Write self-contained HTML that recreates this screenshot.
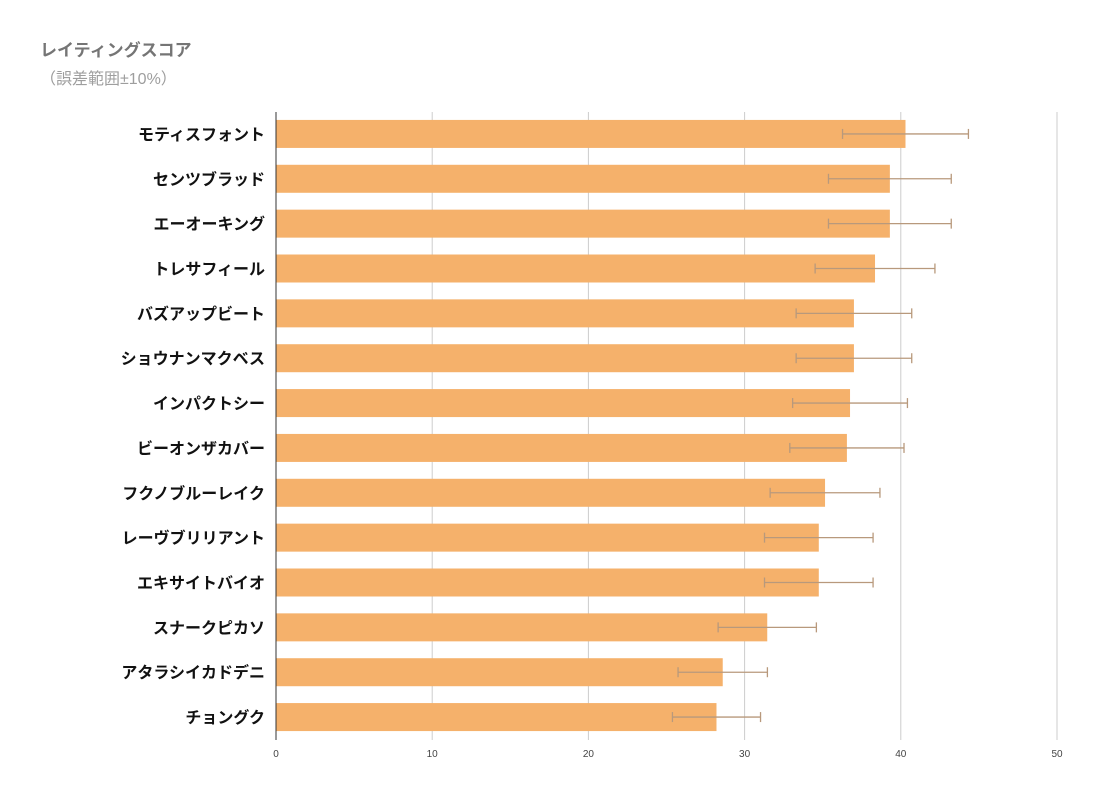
<!DOCTYPE html>
<html><head><meta charset="utf-8"><style>
html,body{margin:0;padding:0;background:#fff}
svg text{font-family:"Liberation Sans","Noto Sans CJK JP",sans-serif}
</style></head><body>
<svg id="chart" width="1102" height="799" xmlns="http://www.w3.org/2000/svg">
<text x="40" y="56" font-size="17" font-weight="bold" fill="#757575">レイティングスコア</text>
<text x="40" y="84" font-size="16" fill="#9e9e9e">（誤差範囲±10%）</text>
<g id="grid"></g><g id="bars"></g><g id="errs"></g><g id="labels"></g>
</svg>
<script>
const categories=["モティスフォント","センツブラッド","エーオーキング","トレサフィール","バズアップビート","ショウナンマクベス","インパクトシー","ビーオンザカバー","フクノブルーレイク","レーヴブリリアント","エキサイトバイオ","スナークピカソ","アタラシイカドデニ","チョングク"];
const values=[40.3,39.3,39.3,38.35,37.0,37.0,36.75,36.55,35.15,34.75,34.75,31.45,28.6,28.2];
const errorPct=[10];
const ticks=[0,10,20,30,40,50];
const NS="http://www.w3.org/2000/svg";
const x0=276,x1=1057,yTop=112,yBot=740,max=50;
const xs=v=>x0+(x1-x0)*v/max;
const step=(yBot-yTop)/categories.length;
const yc=i=>yTop+step*(i+0.5)-0.5;
function mk(p,t,a){const e=document.createElementNS(NS,t);for(const k in a)e.setAttribute(k,a[k]);p.appendChild(e);return e;}
const G=document.getElementById('grid'),B=document.getElementById('bars'),E=document.getElementById('errs'),L=document.getElementById('labels');
ticks.forEach(t=>{
 const l=mk(G,'line',{x1:xs(t),x2:xs(t),y1:yTop,y2:yBot,stroke:t===0?'#333':'#ccc','stroke-width':1});
 
 
 const tx=mk(G,'text',{x:xs(t),y:757,'font-size':10,fill:'#444','text-anchor':'middle'});
 tx.textContent=t;
 
 
});
categories.forEach((c,i)=>{
 const v=values[i],y=yc(i),h=28;
 const r=mk(B,'rect',{x:x0+0.5,y:y-h/2,width:xs(v)-x0-0.5,height:h,fill:'#f5b16b'});
 
 
 const e=v*errorPct[0]/100,a=xs(v-e),b=xs(v+e);
 const g=mk(E,'g',{stroke:'#b8997c','stroke-width':1.3});
 
 
 mk(g,'line',{x1:a,x2:b,y1:y,y2:y});
 mk(g,'line',{x1:a,x2:a,y1:y-5,y2:y+5});
 mk(g,'line',{x1:b,x2:b,y1:y-5,y2:y+5});
 const t=mk(L,'text',{x:265,y:y+6,'font-size':16,'font-weight':'bold',fill:'#111','text-anchor':'end'});
 t.textContent=c;
 
 
});
</script>
</body></html>
